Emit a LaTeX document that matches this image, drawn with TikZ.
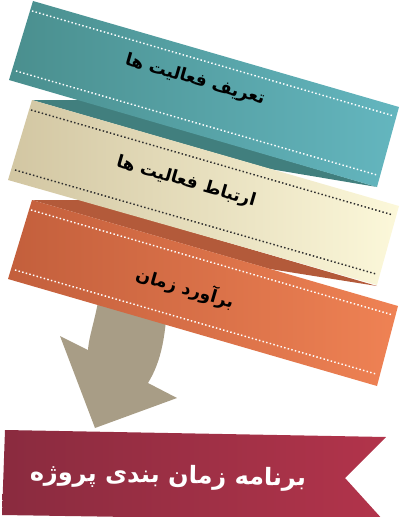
\documentclass[tikz,border=0pt]{standalone}
\usepackage{fontspec}
\setmainfont{DejaVu Sans}
\newfontfamily\fa[Script=Arabic]{DejaVu Sans}
\TeXXeTstate=1
\definecolor{tealL}{HTML}{4A8F8E}
\definecolor{tealR}{HTML}{64B6BF}
\definecolor{tealD}{HTML}{417F7E}
\definecolor{creamL}{HTML}{D2C6A2}
\definecolor{creamR}{HTML}{FCF8DA}
\definecolor{orangeL}{HTML}{C35F3C}
\definecolor{orangeR}{HTML}{EF8254}
\definecolor{orangeD}{HTML}{B35A3A}
\definecolor{arrowc}{HTML}{A89D86}
\definecolor{banL}{HTML}{8A2B3F}
\definecolor{banR}{HTML}{B2344B}
\definecolor{dotdark}{HTML}{2E2E2E}
\begin{document}
\begin{tikzpicture}[x=0.75pt,y=-0.75pt,
  bandtxt/.style={font=\fa\bfseries\fontsize{13}{15}\selectfont, text=black, rotate=-16.15, inner sep=0pt},
  bantxt/.style={font=\fa\bfseries\fontsize{18}{20}\selectfont, text=white, rotate=-1.2, inner sep=0pt},
  dotline/.style={line width=1.1pt, dash pattern=on 1.1pt off 1.7pt},
  bandshape/.pic={\path[pic actions] (0,0) -- (366,106) -- (344,186) -- (-24,79) -- cycle;},
]
\useasboundingbox (0,0) rectangle (400,517);

% curved arrow (behind the bands)
\fill[arrowc] (100,290) .. controls (96,318) and (89,335) .. (88,350)
  -- (60,336) -- (95,428) -- (177,398) -- (148,383)
  .. controls (162,360) and (166,335) .. (168,290) -- cycle;

% dark folds
\fill[tealD] (32,100) -- (82,100) -- (377,187) -- (270,169) -- cycle;
\fill[orangeD] (32,200) -- (82,200) -- (377,286) -- (270,269) -- cycle;

% teal band
\shade[left color=tealL, right color=tealR] (33,1) -- (399,107) -- (377,187) -- (9,80) -- cycle;
\begin{scope}[shift={(33,1)}]
  \draw[dotline, white] (-1,10) -- (361,115);
  \draw[dotline, white] (-17,70) -- (344,174);
\end{scope}
\node[bandtxt] (t1) at (195,80) {\beginR تعریف فعالیت ها\endR};

% cream band
\shade[left color=creamL, right color=creamR] (32,100) -- (399,206) -- (377,285) -- (8,180) -- cycle;
\begin{scope}[shift={(32,100)}]
  \draw[dotline, dotdark] (-1,10) -- (361,115);
  \draw[dotline, dotdark] (-17,70) -- (344,174);
\end{scope}
\node[bandtxt] (t2) at (186,182) {\beginR ارتباط فعالیت ها\endR};

% orange band
\shade[left color=orangeL, right color=orangeR] (32,200) -- (398,306) -- (377,386) -- (8,279) -- cycle;
\begin{scope}[shift={(32,200)}]
  \draw[dotline, white] (-1,10) -- (361,115);
  \draw[dotline, white] (-17,70) -- (344,174);
\end{scope}
\node[bandtxt] (t3) at (185,288) {\beginR برآورد زمان\endR};

% banner
\shade[left color=banL, right color=banR] (5,430) -- (386,437) -- (345,478) -- (384,521) -- (2,515) -- cycle;
\node[bantxt] (t4) at (168,477) {\beginR برنامه زمان بندی پروژه\endR};
\end{tikzpicture}
\end{document}
